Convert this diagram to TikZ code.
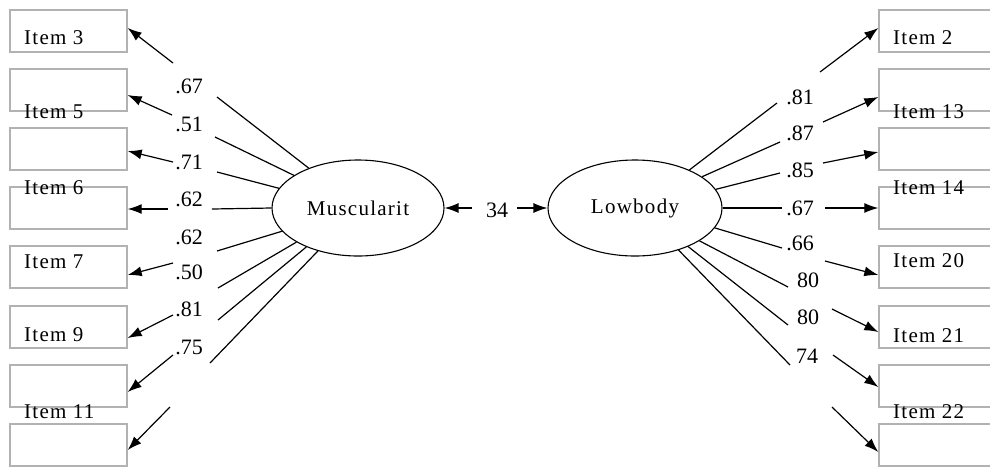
\documentclass[tikz,border=0pt]{standalone}
\usepackage{fontspec}
\setmainfont{Liberation Serif}
\newfontfamily\spacedfont[LetterSpace=6]{Liberation Serif}
\usetikzlibrary{arrows.meta,shapes.geometric}
\begin{document}
\begin{tikzpicture}[x=1pt,y=-1pt,
  itembox/.style={draw=gray!60,line width=1.4pt,minimum width=117pt,minimum height=42pt,inner sep=0pt},
  rbox/.style={itembox,minimum width=121pt},
  latent/.style={ellipse,draw,line width=1.1pt,minimum width=172pt,minimum height=96pt,inner sep=0pt,font=\spacedfont\fontsize{21}{21}\selectfont},
  itemlab/.style={anchor=west,inner sep=0pt,font=\spacedfont\fontsize{21}{21}\selectfont},
  coef/.style={inner sep=0pt,font=\fontsize{22}{22}\selectfont},
  load/.style={line width=1.2pt},
  arr/.style={line width=1.2pt,-{Latex[length=14pt,width=10pt]}}]
\useasboundingbox (0,0) rectangle (990,467);
\clip (0,0) rectangle (990,467);
% left boxes
\foreach \i/\y in {1/31,2/90,3/149,4/208,5/267,6/327,7/386,8/445}
  \node[itembox] (L\i) at (68.5,\y) {};
% right boxes
\foreach \i/\y in {1/31,2/90,3/149,4/208,5/267,6/327,7/386,8/445}
  \node[rbox] (R\i) at (939.5,\y) {};
% item labels
\node[itemlab] (tL3) at (24,38) {Item 3};
\node[itemlab] (tL5) at (24,112) {Item 5};
\node[itemlab] (tL6) at (24,188) {Item 6};
\node[itemlab] (tL7) at (24,262) {Item 7};
\node[itemlab] (tL9) at (24,335) {Item 9};
\node[itemlab] (tL11) at (24,412) {Item 11};
\node[itemlab] (tR2) at (893,38) {Item 2};
\node[itemlab] (tR13) at (893,112) {Item 13};
\node[itemlab] (tR14) at (893,188) {Item 14};
\node[itemlab] (tR20) at (893,261) {Item 20};
\node[itemlab] (tR21) at (893,336) {Item 21};
\node[itemlab] (tR22) at (893,412) {Item 22};
% latent variables
\node[latent] (M) at (358,208) {Muscularit};
\node[latent,minimum width=174pt] (B) at (635,208) {Lowbody};
% correlation
\node[coef] (c) at (497,210) {34};
\draw[arr] (c.west) ++(-14,-2) coordinate (cl) -- (M.east);
\draw[arr] (c.east) ++(9,-2) coordinate (cr) -- (B.west);
% left loadings
\foreach \a/\ex/\ey/\ly/\t/\sx/\sy/\bx/\sh in
  {141.9/217/97/86/.67/173/63/1/3,
   153.1/215/137/124/.51/172/115/2/-5,
   166.1/217/172/162/.71/173/162/3/-2,
   180/212/209/199/.62/168/209/4/-1,
   197.5/217/251/237/.62/173/263/5/-8,
   209.8/218/288/272/.50/173/315/6/-11,
   217.4/218/320/309/.81/173/355/7/-6,
   227/210/363/347/.75/170/407/8/-5}
{
  \coordinate (le\bx) at (\ex,\ey);
  \draw[load] (M.\a) -- (le\bx);
  \node[coef] (lc\bx) at (189,\ly) {\t};
  \coordinate (ls\bx) at (\sx,\sy);
  \draw[arr] (ls\bx) -- ([yshift=\sh pt]L\bx.east);
}
% right loadings
\foreach \a/\ex/\ey/\lx/\ly/\t/\sx/\sy/\bx/\sh in
  {35.6/777/103/800/97/.81/820/72/1/3,
   25.2/780/142/800/133/.87/823/122/2/-7,
   13.5/780/173/800/170/.85/823/163/3/-3,
   0/782/208/800/208/.67/825/208/4/0,
   -14.9/782/248/800/243/.66/825/261/5/-8,
   -27.6/788/287/808/280/80/832/309/6/-5,
   -36.3/788/325/808/317/80/833/355/7/-1,
   -44.3/790/365/807/356/74/832/407/8/-7}
{
  \coordinate (re\bx) at (\ex,\ey);
  \draw[load] (B.\a) -- (re\bx);
  \node[coef] (rc\bx) at (\lx,\ly) {\t};
  \coordinate (rs\bx) at (\sx,\sy);
  \draw[arr] (rs\bx) -- ([yshift=\sh pt]R\bx.west);
}
\end{tikzpicture}
\end{document}
